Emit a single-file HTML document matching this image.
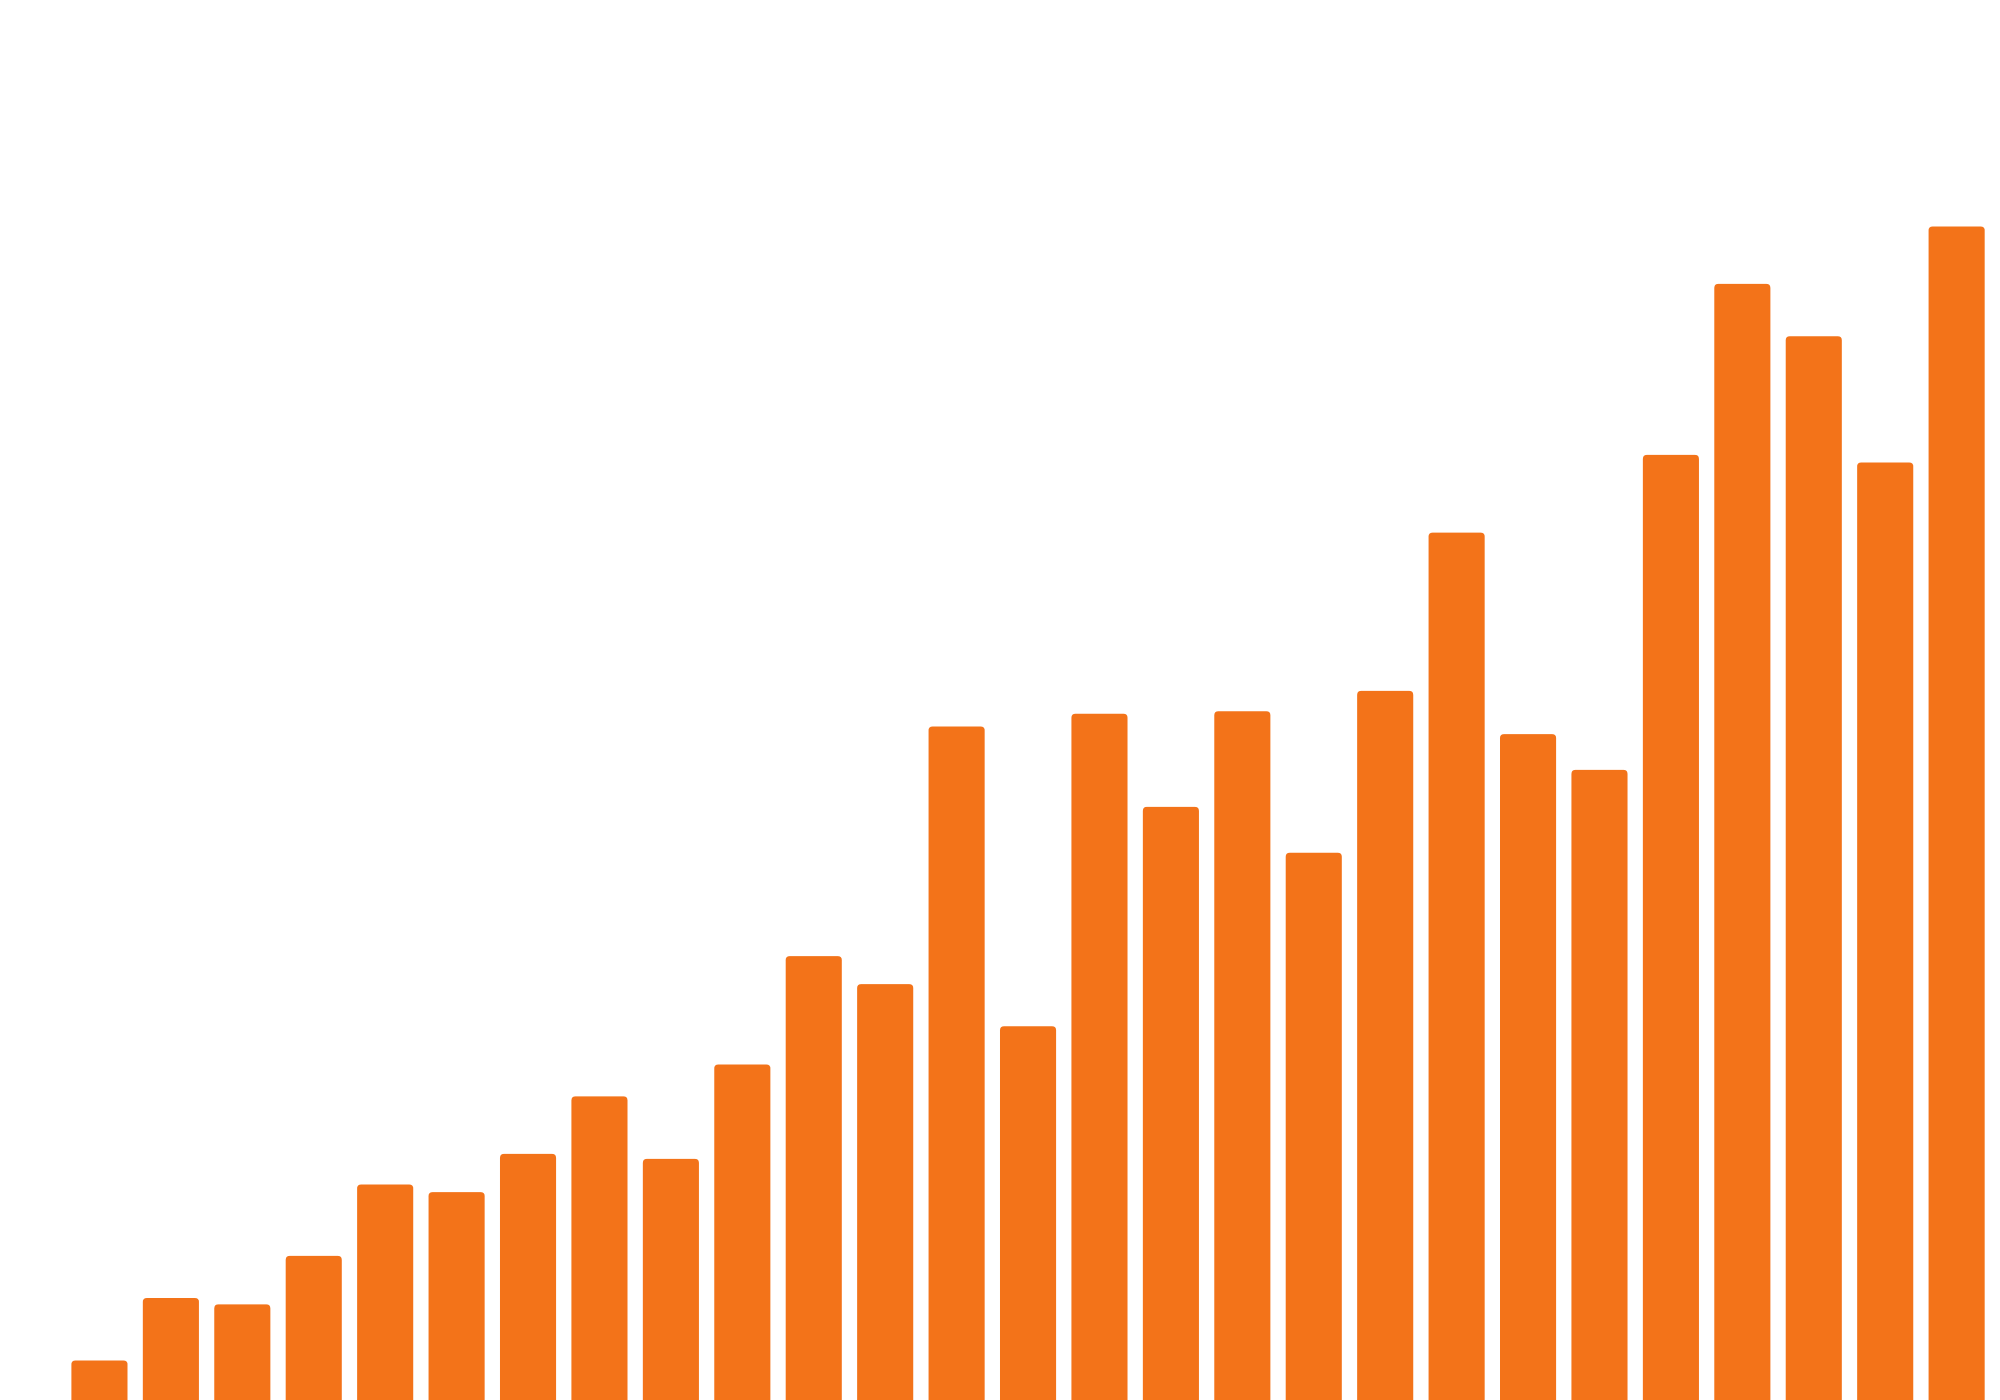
<!DOCTYPE html>
<html>
<head>
<meta charset="utf-8">
<style>
  html, body { margin: 0; padding: 0; background: #ffffff; }
  svg { display: block; }
</style>
</head>
<body>
<svg id="chart" width="2000" height="1400" viewBox="0 0 2000 1400" xmlns="http://www.w3.org/2000/svg">
  <g id="bars"></g>
</svg>
<script>
const categories = ["c1","c2","c3","c4","c5","c6","c7","c8","c9","c10","c11","c12","c13","c14","c15","c16","c17","c18","c19","c20","c21","c22","c23","c24","c25","c26","c27"];
const values = [31, 80, 75, 113, 169, 163, 193, 238, 189, 263, 348, 326, 528, 293, 538, 465, 540, 429, 556, 680, 522, 494, 741, 875, 834, 735, 920];
const yMax = 1097.6;

const chartBottom = 1400;
const chartTop = 0;
const step = 71.43;
const x0 = 71.4;
const barWidth = 56.1;

function xScale(i) { return x0 + i * step; }
function yScale(v) { return chartBottom - (v / yMax) * (chartBottom - chartTop); }

const NS = "http://www.w3.org/2000/svg";
const g = document.getElementById("bars");
values.forEach(function (v, i) {
  const x = xScale(i);
  const y = yScale(v);
  const w = barWidth;
  const h = chartBottom - y;
  const r = 4;
  const p = document.createElementNS(NS, "path");
  p.setAttribute("d",
    "M" + x + "," + chartBottom +
    " L" + x + "," + (y + r) +
    " Q" + x + "," + y + " " + (x + r) + "," + y +
    " L" + (x + w - r) + "," + y +
    " Q" + (x + w) + "," + y + " " + (x + w) + "," + (y + r) +
    " L" + (x + w) + "," + chartBottom + " Z");
  p.setAttribute("fill", "#F37319");
  
  
  g.appendChild(p);
});
</script>
</body>
</html>
